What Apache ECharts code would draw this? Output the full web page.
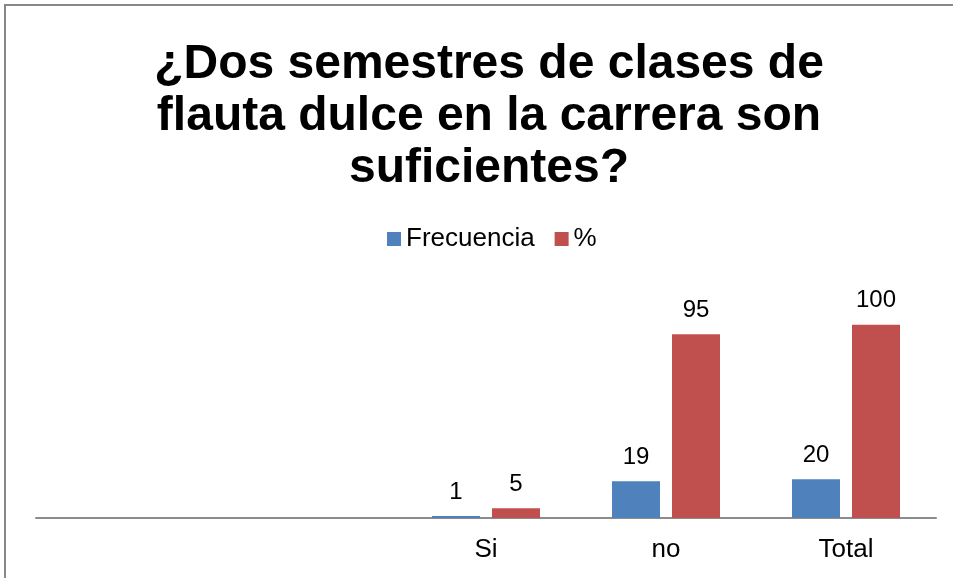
<!DOCTYPE html>
<html>
<head>
<meta charset="utf-8">
<script src="https://cdn.jsdelivr.net/npm/echarts@6/dist/echarts.min.js"></script>
<style>
    html, body { margin: 0; padding: 0; background: #fff; }
    #chart { width: 953px; height: 578px; }
</style>
</head>
<body>
<div id="chart"></div>
<script>
const categories = ['', '', 'Si', 'no', 'Total'];
const frecuencia = [null, null, 1, 19, 20];
const porcentaje = [null, null, 5, 95, 100];

const colorBlue = '#4F81BD';
const colorRed = '#C0504D';
const font = '"Liberation Sans", Arial, sans-serif';

const labelStyle = {
    show: true,
    position: 'top',
    distance: 12,
    color: '#000',
    fontSize: 24,
    fontFamily: font
};

const option = {
    animation: false,
    backgroundColor: '#fff',
    title: {
        text: '¿Dos semestres de clases de\nflauta dulce en la carrera son\nsuficientes?',
        left: 484,
        textAlign: 'center',
        top: 34,
        textStyle: {
            fontFamily: font,
            fontSize: 48,
            fontWeight: 'bold',
            lineHeight: 52,
            color: '#000'
        }
    },
    legend: {
        top: 221,
        left: 382,
        itemWidth: 14,
        itemHeight: 14,
        itemGap: 20,
        icon: 'rect',
        textStyle: {
            fontFamily: font,
            fontSize: 26,
            color: '#000'
        },
        data: ['Frecuencia', '%']
    },
    grid: {
        left: 36,
        right: 17,
        top: 286,
        bottom: 60
    },
    xAxis: {
        type: 'category',
        data: categories,
        axisLine: { lineStyle: { color: '#8c8c8c', width: 2 } },
        axisTick: { show: false },
        axisLabel: {
            margin: 19,
            fontFamily: font,
            fontSize: 26,
            color: '#000'
        }
    },
    yAxis: {
        type: 'value',
        min: 0,
        max: 120,
        show: false,
        splitLine: { show: false }
    },
    series: [{
        name: 'Frecuencia',
        type: 'bar',
        data: frecuencia,
        barWidth: 48,
        barGap: '25%',
        itemStyle: { color: colorBlue },
        label: labelStyle
    }, {
        name: '%',
        type: 'bar',
        data: porcentaje,
        barWidth: 48,
        itemStyle: { color: colorRed },
        label: labelStyle
    }],
    graphic: [{
        type: 'rect',
        shape: { x: 5, y: 5, width: 1000, height: 1000 },
        style: { fill: 'none', stroke: '#888', lineWidth: 2 },
        silent: true
    }]
};

const chart = echarts.init(document.getElementById('chart'));
chart.setOption(option);
</script>
</body>
</html>
